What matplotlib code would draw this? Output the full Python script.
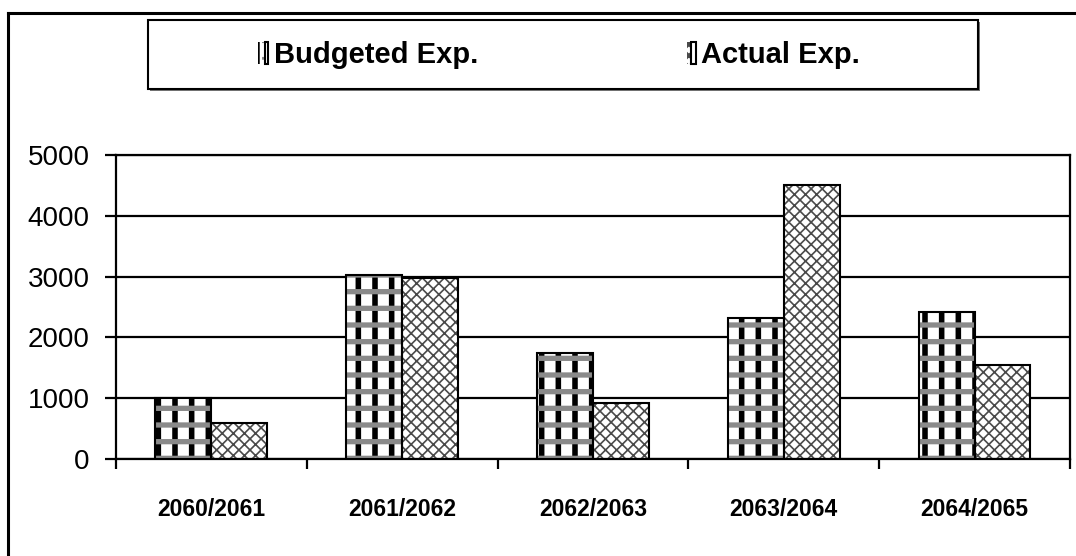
import numpy as np
import matplotlib.pyplot as plt
from matplotlib.patches import Rectangle
from matplotlib.lines import Line2D
from matplotlib.legend_handler import HandlerTuple

years = ['2060/2061', '2061/2062', '2062/2063', '2063/2064', '2064/2065']
budgeted = [1010, 3030, 1740, 2320, 2410]
actual = [590, 2980, 920, 4510, 1545]

plt.rcParams['font.family'] = ['Liberation Sans Narrow', 'Liberation Sans', 'DejaVu Sans']
plt.rcParams['hatch.linewidth'] = 2.0

fig = plt.figure(figsize=(10.76, 5.56), dpi=100)
ax = fig.add_axes([0.1078, 0.1745, 0.8866, 0.5468])

x = np.arange(len(years))
w = 0.293


def layer(xs, vals, hatch, color, lw, z):
    bars = ax.bar(xs, vals, w, color='none', edgecolor=color, hatch=hatch,
                  linewidth=0, zorder=z)
    for b in bars:
        if hasattr(b, 'set_hatch_linewidth'):
            b.set_hatch_linewidth(lw)
    return bars


def series(xs, vals, layers):
    base = ax.bar(xs, vals, w, color='white', linewidth=0, zorder=2)
    parts = [base[0]]
    for hatch, color, lw in layers:
        parts.append(layer(xs, vals, hatch, color, lw, 3)[0])
    edge = ax.bar(xs, vals, w, fill=False, edgecolor='black', linewidth=1.5, zorder=4)
    parts.append(edge[0])
    return tuple(parts)


h_budget = series(x - w / 2, budgeted,
                  [('|', 'black', 4.0), ('-', '#8a8a8a', 3.8)])
h_actual = series(x + w / 2, actual,
                  [('xxx', '#4a4a4a', 1.2)])

ax.set_xlim(-0.5, len(years) - 0.5)
ax.set_ylim(0, 5000)
ax.set_yticks(range(0, 5001, 1000))
ax.yaxis.grid(True, color='black', linewidth=1.6)
ax.set_axisbelow(True)
for s in ax.spines.values():
    s.set_color('black')
    s.set_linewidth(1.6)

ax.tick_params(axis='y', direction='out', length=8, width=1.6, pad=11, labelsize=20)
ax.set_xticks(x)
ax.set_xticklabels(years, fontsize=16.5, fontweight='bold')
ax.tick_params(axis='x', which='major', length=0, pad=28)
ax.set_xticks(np.arange(-0.5, len(years), 1), minor=True)
ax.tick_params(axis='x', which='minor', direction='out', length=7, width=1.6)

# legend box with a drop shadow
lx0, ly0, lx1, ly1 = 148 / 1076, 1 - 89 / 556, 978 / 1076, 1 - 20 / 556
fig.patches.append(Rectangle((lx0 + 2 / 1076, ly0 - 2 / 556), lx1 - lx0, ly1 - ly0,
                             transform=fig.transFigure, facecolor='#777777',
                             edgecolor='none', zorder=1))
fig.patches.append(Rectangle((lx0, ly0), lx1 - lx0, ly1 - ly0,
                             transform=fig.transFigure, facecolor='white',
                             edgecolor='black', linewidth=1.5, zorder=2))

leg = fig.legend([h_budget, h_actual], ['Budgeted Exp.', 'Actual Exp.'],
                 handler_map={tuple: HandlerTuple(ndivide=None)},
                 loc='center left', bbox_to_anchor=(255 / 1076, 1 - 55 / 556),
                 ncol=2, frameon=False, borderpad=0, borderaxespad=0,
                 handlelength=0.45, handleheight=0.75, handletextpad=0.2,
                 columnspacing=7.0, prop={'size': 21, 'weight': 'bold'})
leg.set_zorder(3)

# outer frame
fig.add_artist(Line2D([8 / 1076, 8 / 1076], [0, 1 - 13 / 556], color='black', linewidth=2.2))
fig.add_artist(Line2D([8 / 1076, 1], [1 - 13 / 556, 1 - 13 / 556], color='black', linewidth=2.2))

fig.savefig('out.png', dpi=100)
